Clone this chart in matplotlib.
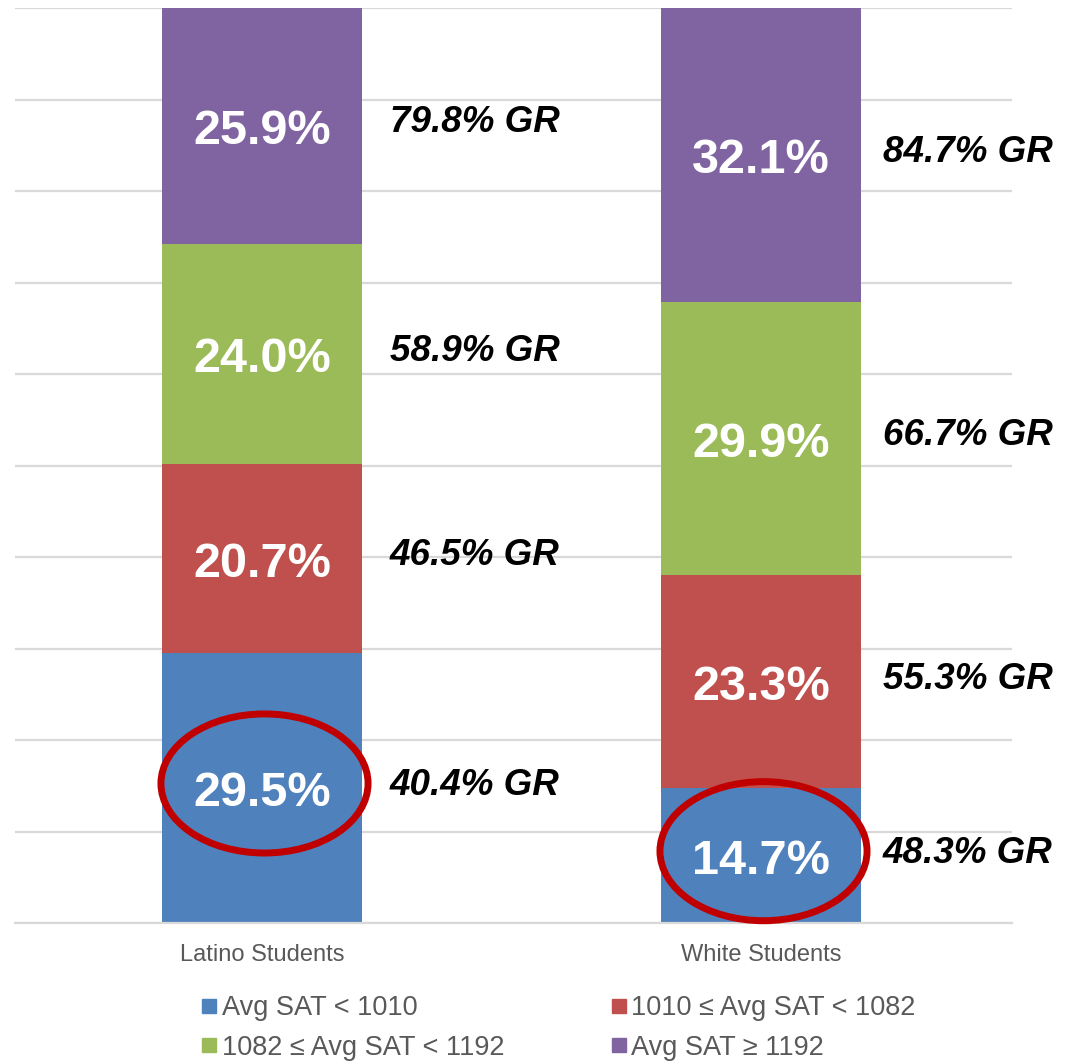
#Stacked SAT distribution chart with graduation rates
import matplotlib
matplotlib.use('Agg')
import matplotlib.pyplot as plt
from matplotlib.patches import Ellipse
from matplotlib.lines import Line2D

plt.rcParams['font.family'] = ['Liberation Sans', 'DejaVu Sans']

groups = ['Latino Students', 'White Students']
bands = ['Avg SAT < 1010', '1010 \u2264 Avg SAT < 1082',
         '1082 \u2264 Avg SAT < 1192', 'Avg SAT \u2265 1192']
shares = [[29.5, 14.7],                                     #share of students per band (%)
          [20.7, 23.3],
          [24.0, 29.9],
          [25.9, 32.1]]
gradRates = [[40.4, 48.3],                                  #graduation rate per band (%)
             [46.5, 55.3],
             [58.9, 66.7],
             [79.8, 84.7]]
colors = ['#4F81BD', '#C0504D', '#9BBB59', '#8064A2']

GRID = '#D9D9D9'
GRAY = '#595959'
BARW = 0.4

fig = plt.figure(figsize=(10.74, 10.64), dpi=100)
ax = fig.add_axes([15/1074, 1-923/1064, 997/1074, 915/1064])

xpos = list(range(len(groups)))
bottoms = [0.0]*len(groups)
for i in range(len(bands)):
    vals = [v/100.0 for v in shares[i]]
    ax.bar(xpos, vals, BARW, bottom=bottoms, color=colors[i], zorder=2)
    for j in xpos:
        yc = bottoms[j] + vals[j]/2
        ax.text(j, yc - 0.0065, '%.1f%%' % shares[i][j], color='white', fontsize=35,
                fontweight='bold', ha='center', va='center', zorder=4)
        ax.text(j + BARW/2 + (0.056 if j == 0 else 0.044), yc + 0.003,
                '%.1f%% GR' % gradRates[i][j], color='black', fontsize=26.5,
                fontweight='bold', fontstyle='italic', ha='left', va='center',
                clip_on=False, zorder=4)
    bottoms = [bottoms[j] + vals[j] for j in xpos]

#highlight the lowest band
for j in xpos:
    yc = shares[0][j]/200.0 + 0.005
    ax.add_patch(Ellipse((j + 0.005, yc), 0.415, 0.152, fill=False, edgecolor='#C00000',
                         linewidth=5, zorder=5, clip_on=False))

ax.set_xlim(-0.495, 1.503)
ax.set_ylim(0, 1.0)
ax.set_yticks([k/10.0 for k in range(11)])
ax.yaxis.grid(True, color=GRID, linewidth=1.6, zorder=0)
ax.set_axisbelow(True)
for s in ['left', 'right', 'top']:
    ax.spines[s].set_visible(False)
ax.spines['bottom'].set_color(GRID)
ax.spines['bottom'].set_linewidth(1.6)
ax.tick_params(axis='y', left=False, labelleft=False)
ax.tick_params(axis='x', length=0, pad=15, labelsize=17, labelcolor=GRAY)
ax.set_xticks(xpos)
ax.set_xticklabels(groups)

#legend reads row by row: blue, red / green, purple
order = [0, 2, 1, 3]
handles = [Line2D([], [], marker='s', linestyle='none', markersize=10,
                  color=colors[k]) for k in order]
fig.legend(handles, [bands[k] for k in order], loc='lower center',
           bbox_to_anchor=(0.52, -0.02), ncol=2, frameon=False, fontsize=19.5,
           labelcolor=GRAY, handlelength=0.6, handletextpad=0.15,
           columnspacing=3.95, labelspacing=0.5)

fig.savefig('out.png', dpi=100)
